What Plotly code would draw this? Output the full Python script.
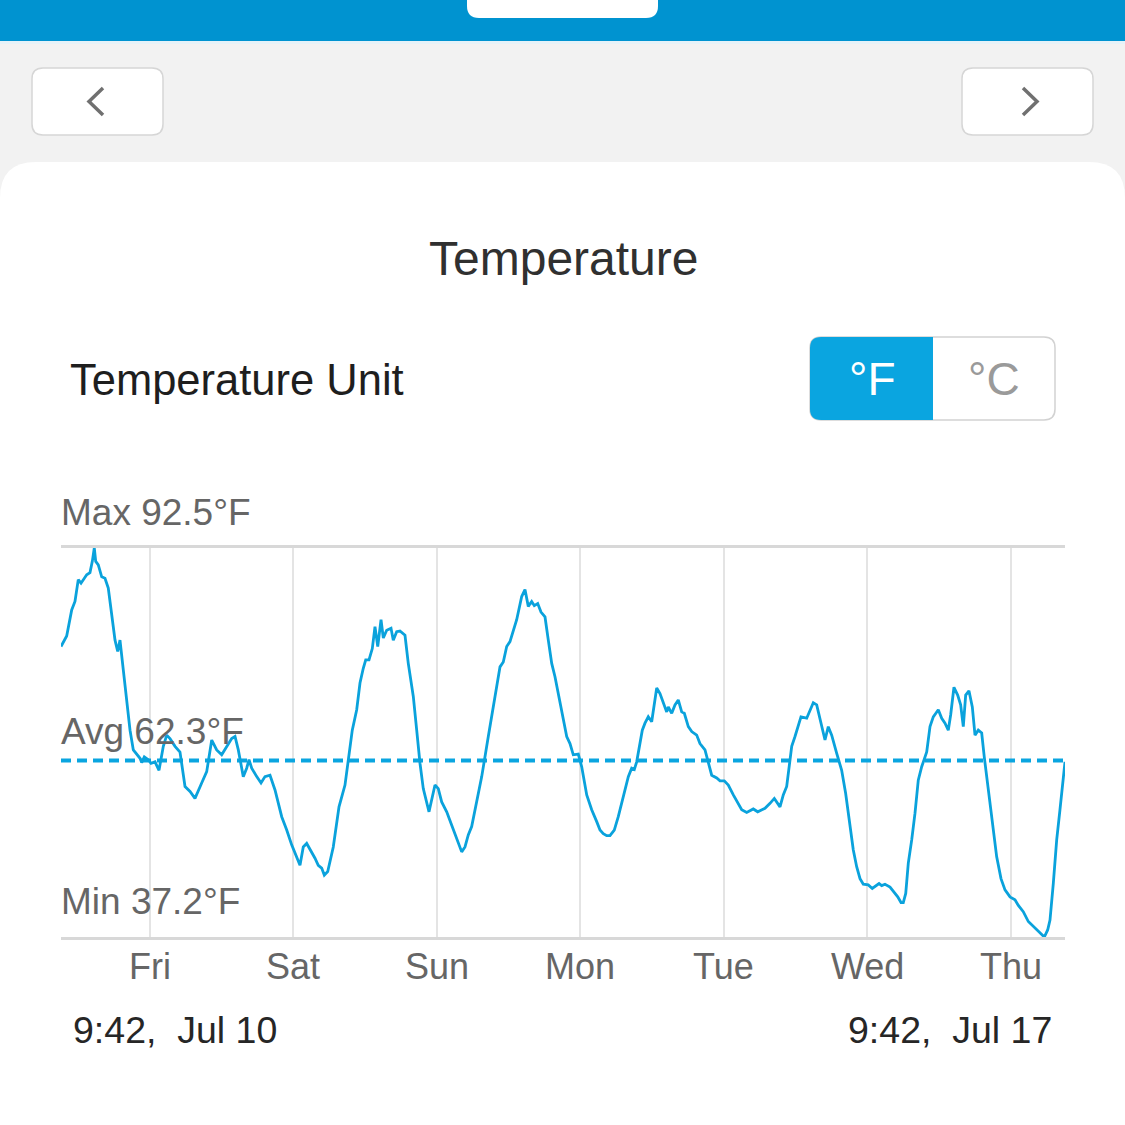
import plotly.graph_objects as go

W = H = 1125

# ---------------- data ----------------
hours = [0, 0.95, 1.79, 2.34, 2.89, 3.35, 4.30, 4.85, 5.24, 5.57, 5.81, 6.24, 6.81, 7.36, 7.91, 8.48, 9.04, 9.49, 9.87, 10.42,
         10.99, 11.55, 12.10, 12.67, 13.22, 13.50, 13.94, 14.61, 15.06, 15.73, 16.40, 17.12, 17.69, 18.24, 19.08, 19.91, 20.75,
         21.59, 22.42, 23.54, 24.38, 25.22, 26.05, 26.89, 27.73, 28.56, 29.12, 29.67, 30.50, 31.07, 31.46, 31.91, 32.75, 33.47,
         34.13, 34.97, 35.81, 36.93, 37.77, 38.60, 39.99, 40.54, 41.11, 41.95, 42.50, 43.05, 43.62, 44.06, 44.63, 45.56, 46.13,
         46.52, 47.52, 48.07, 48.74, 49.48, 50.03, 50.58, 50.99, 51.54, 52.09, 52.54, 53.00, 53.55, 53.93, 54.50, 55.22, 55.60,
         56.17, 56.72, 57.56, 58.11, 58.95, 59.52, 60.07, 60.62, 61.58, 62.58, 63.13, 63.70, 64.54, 65.38, 66.21, 67.05, 67.60,
         68.15, 68.72, 69.56, 70.40, 71.50, 72.34, 72.91, 73.46, 74.01, 74.58, 75.13, 76.25, 77.09, 77.64, 78.19, 78.76, 79.20,
         79.77, 80.32, 80.99, 81.54, 82.11, 82.66, 83.50, 84.05, 84.62, 85.17, 85.72, 86.56, 87.13, 87.97, 88.80, 89.64, 90.19,
         90.74, 91.31, 91.86, 92.58, 93.25, 94.09, 94.93, 95.49, 95.93, 96.33, 96.89, 97.27, 97.72, 98.27, 98.84, 99.68, 100.23,
         100.78, 101.35, 101.62, 102.19, 102.74, 103.29, 103.86, 104.30, 104.97, 105.54, 106.37, 106.92, 107.76, 108.31, 108.88,
         109.72, 110.27, 110.99, 111.66, 112.50, 113.33, 113.90, 114.74, 115.84, 116.58, 117.80, 118.64, 119.36, 120.31, 120.86,
         121.43, 121.82, 122.27, 122.82, 123.82, 124.78, 125.33, 125.88, 126.45, 127.29, 127.84, 128.39, 128.96, 129.80, 130.63,
         131.30, 132.02, 132.57, 133.14, 133.70, 134.25, 135.08, 135.75, 136.32, 136.88, 137.33, 137.88, 138.72, 139.44, 140.01,
         140.56, 140.94, 141.35, 141.78, 142.35, 142.90, 143.45, 144.02, 144.86, 145.41, 145.96, 146.80, 147.37, 147.92, 148.47,
         148.87, 149.42, 150.04, 150.54, 150.98, 151.38, 151.93, 152.49, 152.94, 153.49, 154.06, 154.49, 155.16, 156.00, 156.57,
         157.29, 157.96, 158.80, 159.63, 160.19, 161.02, 161.86, 162.70, 163.53, 164.54, 165.10, 165.49, 166.04, 166.61, 167.16,
         168.0]

temps_f = [78.5, 80.0, 83.7, 84.9, 88.0, 87.5, 88.7, 89.0, 90.6, 92.5, 90.6, 90.1, 88.4, 88.2, 86.8, 83.2, 79.4, 77.8, 79.4, 75.2,
           70.4, 66.6, 63.8, 63.1, 62.6, 62.0, 62.8, 62.4, 61.9, 62.1, 60.9, 64.3, 65.9, 65.4, 64.3, 63.5, 58.6,
           57.9, 56.9, 59.1, 60.7, 65.2, 63.8, 63.1, 64.3, 65.4, 65.7, 63.8, 60.0, 61.2, 62.4, 61.2, 60.0, 59.1,
           60.0, 60.2, 58.1, 54.3, 52.4, 50.3, 47.4, 50.0, 50.5, 49.3, 48.4, 47.4, 47.0, 46.0, 46.5, 50.0, 53.4,
           55.7, 58.8, 62.4, 66.6, 69.5, 73.3, 75.4, 76.6, 76.6, 78.2, 81.3, 78.5, 82.3, 79.7, 80.8, 81.1, 79.4,
           80.6, 80.7, 80.1, 76.1, 71.4, 66.6, 61.9, 58.3, 55.0, 58.8, 58.3, 56.4, 55.0, 53.1, 51.2, 49.3, 50.0,
           51.7, 52.9, 56.7, 60.0, 65.7, 69.9, 72.8, 75.6, 76.3, 78.5, 79.2, 82.3, 85.6, 86.6, 84.2, 84.9, 84.3,
           84.6, 83.4, 82.7, 79.4, 76.1, 74.2, 70.4, 68.0, 65.7, 64.7, 63.1, 63.2, 61.4, 57.4, 55.3, 53.6, 52.4,
           51.9, 51.6, 51.6, 52.4, 54.3, 57.1, 60.0, 61.2, 61.0, 62.1, 64.7, 66.6, 67.6, 68.5, 67.8, 72.6, 71.8,
           70.6, 69.2, 69.9, 69.0, 70.2, 70.9, 69.2, 69.0, 67.1, 66.4, 65.9, 64.7, 63.8, 61.9, 60.2,
           59.8, 59.4, 59.4, 58.8, 57.4, 56.1, 55.3, 54.9, 55.4, 55.0, 55.5, 56.2, 56.9, 55.7, 57.4,
           58.6, 61.4, 64.3, 65.7, 68.5, 68.3, 69.5, 70.5, 70.2, 67.1, 65.2, 67.1, 65.9, 63.3, 60.9,
           57.6, 53.4, 49.6, 47.2, 45.5, 44.7, 44.6, 44.1, 44.4, 44.8, 44.5, 44.7, 44.3, 43.6, 42.9,
           42.1, 42.1, 43.4, 47.7, 51.0, 54.8, 59.5, 61.4, 63.5, 67.1, 68.5, 69.5, 68.3, 67.6, 66.6,
           68.8, 72.7, 71.6, 70.2, 67.1, 71.6, 72.2, 69.9, 65.9, 66.6, 66.2, 62.8, 58.1, 52.4, 48.6,
           45.5, 43.9, 42.9, 42.5, 41.7, 40.8, 39.4, 38.7, 38.1, 37.2, 38.2, 39.6, 44.8, 51.0, 55.3,
           62.1]

max_f = 92.5
avg_f = 62.3
min_f = 37.2
total_hours = 168
day_names = ["Fri", "Sat", "Sun", "Mon", "Tue", "Wed", "Thu"]
day_start_hours = [14.9, 38.9, 62.9, 86.9, 110.9, 134.9, 158.9]
range_start_label = "9:42,  Jul 10"
range_end_label = "9:42,  Jul 17"
title_text = "Temperature"
unit_label = "Temperature Unit"
units = ["°F", "°C"]

assert len(hours) == len(temps_f), (len(hours), len(temps_f))

# ---------------- styling ----------------
FONT = "Liberation Sans, Arial, Helvetica, sans-serif"
LINE_BLUE = "#0AA2DC"
TOGGLE_BLUE = "#0AA5E0"
BAR_BLUE = "#0093D0"
GRAY_TXT = "#666666"
DARK_TXT = "#262626"

PLOT_L, PLOT_R, PLOT_T, PLOT_B = 61, 1065, 548, 937


def px(x):
    return x / W


def py(y):
    return 1 - y / H


def rrect(x0, y0, x1, y1, tl=0, tr=0, br=0, bl=0):
    def p(x, y):
        return f"{px(x):.5f},{py(y):.5f}"
    d = f"M {p(x0 + tl, y0)} L {p(x1 - tr, y0)} "
    d += f"Q {p(x1, y0)} {p(x1, y0 + tr)} " if tr else ""
    d += f"L {p(x1, y1 - br)} "
    d += f"Q {p(x1, y1)} {p(x1 - br, y1)} " if br else ""
    d += f"L {p(x0 + bl, y1)} "
    d += f"Q {p(x0, y1)} {p(x0, y1 - bl)} " if bl else ""
    d += f"L {p(x0, y0 + tl)} "
    d += f"Q {p(x0, y0)} {p(x0 + tl, y0)} " if tl else ""
    return d + "Z"


def polyline(pts):
    return "M " + " L ".join(f"{px(x):.5f},{py(y):.5f}" for x, y in pts)


shapes = [
    # top blue header
    dict(type="rect", xref="paper", yref="paper", x0=0, x1=1, y0=py(41), y1=1,
         fillcolor=BAR_BLUE, line=dict(width=0), layer="below"),
    dict(type="rect", xref="paper", yref="paper", x0=0, x1=1, y0=py(44), y1=py(41),
         fillcolor="#E6F2F8", line=dict(width=0), layer="below"),
    dict(type="path", xref="paper", yref="paper", path=rrect(467, -10, 658, 18, 0, 0, 12, 12),
         fillcolor="white", line=dict(width=0), layer="below"),
    # nav buttons
    dict(type="path", xref="paper", yref="paper", path=rrect(32, 68, 163, 135, 11, 11, 11, 11),
         fillcolor="white", line=dict(color="#D6D6D6", width=1.5), layer="below"),
    dict(type="path", xref="paper", yref="paper", path=rrect(962, 68, 1093, 135, 11, 11, 11, 11),
         fillcolor="white", line=dict(color="#D6D6D6", width=1.5), layer="below"),
    dict(type="path", xref="paper", yref="paper", path=polyline([(103, 88), (89, 101.5), (103, 115)]),
         line=dict(color="#707070", width=3.5), layer="below"),
    dict(type="path", xref="paper", yref="paper", path=polyline([(1023, 88), (1037, 101.5), (1023, 115)]),
         line=dict(color="#707070", width=3.5), layer="below"),
    # white card
    dict(type="path", xref="paper", yref="paper", path=rrect(0, 162, 1125, 1140, 36, 36, 0, 0),
         fillcolor="white", line=dict(width=0), layer="below"),
    # unit toggle
    dict(type="path", xref="paper", yref="paper", path=rrect(810, 337, 1055, 420, 11, 11, 11, 11),
         fillcolor="white", line=dict(color="#D2D2D2", width=1.5), layer="below"),
    dict(type="path", xref="paper", yref="paper", path=rrect(810, 337, 933, 420, 11, 0, 0, 11),
         fillcolor=TOGGLE_BLUE, line=dict(width=0), layer="below"),
]

annotations = [
    dict(text=title_text, x=px(563), y=py(258), xref="paper", yref="paper", xanchor="center", yanchor="middle",
         showarrow=False, font=dict(family=FONT, size=48, color="#303030")),
    dict(text=unit_label, x=px(68), y=py(380), xref="paper", yref="paper", xanchor="left", yanchor="middle",
         showarrow=False, font=dict(family=FONT, size=43.5, color="#1E1E1E")),
    dict(text=units[0], x=px(872), y=py(379), xref="paper", yref="paper", xanchor="center", yanchor="middle",
         showarrow=False, font=dict(family=FONT, size=46, color="white")),
    dict(text=units[1], x=px(994), y=py(379), xref="paper", yref="paper", xanchor="center", yanchor="middle",
         showarrow=False, font=dict(family=FONT, size=46, color="#9A9A9A")),
    dict(text=f"Max {max_f}°F", x=px(PLOT_L - 2), y=max_f, xref="paper", yref="y", xanchor="left", yanchor="middle",
         yshift=35, showarrow=False, font=dict(family=FONT, size=37, color=GRAY_TXT)),
    dict(text=f"Avg {avg_f}°F", x=px(PLOT_L - 2), y=avg_f, xref="paper", yref="y", xanchor="left", yanchor="middle",
         yshift=29, showarrow=False, font=dict(family=FONT, size=37, color=GRAY_TXT)),
    dict(text=f"Min {min_f}°F", x=px(PLOT_L - 2), y=min_f, xref="paper", yref="y", xanchor="left", yanchor="middle",
         yshift=35, showarrow=False, font=dict(family=FONT, size=37, color=GRAY_TXT)),
    dict(text=range_start_label, x=px(71), y=py(1030), xref="paper", yref="paper", xanchor="left", yanchor="middle",
         showarrow=False, font=dict(family=FONT, size=37.5, color=DARK_TXT)),
    dict(text=range_end_label, x=px(1054), y=py(1030), xref="paper", yref="paper", xanchor="right", yanchor="middle",
         showarrow=False, font=dict(family=FONT, size=37.5, color=DARK_TXT)),
]

# day labels under the day-boundary gridlines
for h, name in zip(day_start_hours, day_names):
    annotations.append(dict(text=name, x=h, y=py(966), xref="x", yref="paper", xanchor="center", yanchor="middle",
                            showarrow=False, font=dict(family=FONT, size=36, color=GRAY_TXT)))

fig = go.Figure()
fig.add_trace(go.Scatter(x=[0, total_hours], y=[avg_f, avg_f], mode="lines",
                         line=dict(color=TOGGLE_BLUE, width=4, dash="10px,6px"), hoverinfo="skip"))
fig.add_trace(go.Scatter(x=hours, y=temps_f, mode="lines",
                         line=dict(color=LINE_BLUE, width=2.8), hoverinfo="skip"))

fig.update_layout(
    width=W, height=H, autosize=False,
    margin=dict(l=0, r=0, t=0, b=0),
    paper_bgcolor="#F2F2F2", plot_bgcolor="white",
    showlegend=False,
    shapes=shapes, annotations=annotations,
    xaxis=dict(domain=[px(PLOT_L), px(PLOT_R)], range=[0, total_hours],
               tickmode="array", tickvals=day_start_hours, ticktext=day_names,
               showgrid=True, gridcolor="#E4E4E4", gridwidth=1.5,
               showline=True, linecolor="#D8D8D8", linewidth=3, mirror=True,
               zeroline=False, ticks="", showticklabels=False, fixedrange=True),
    yaxis=dict(domain=[py(PLOT_B), py(PLOT_T)], range=[min_f, max_f],
               showgrid=False, zeroline=False, showticklabels=False, showline=False, fixedrange=True),
)

fig.write_html("out.html", config=dict(displayModeBar=False))
